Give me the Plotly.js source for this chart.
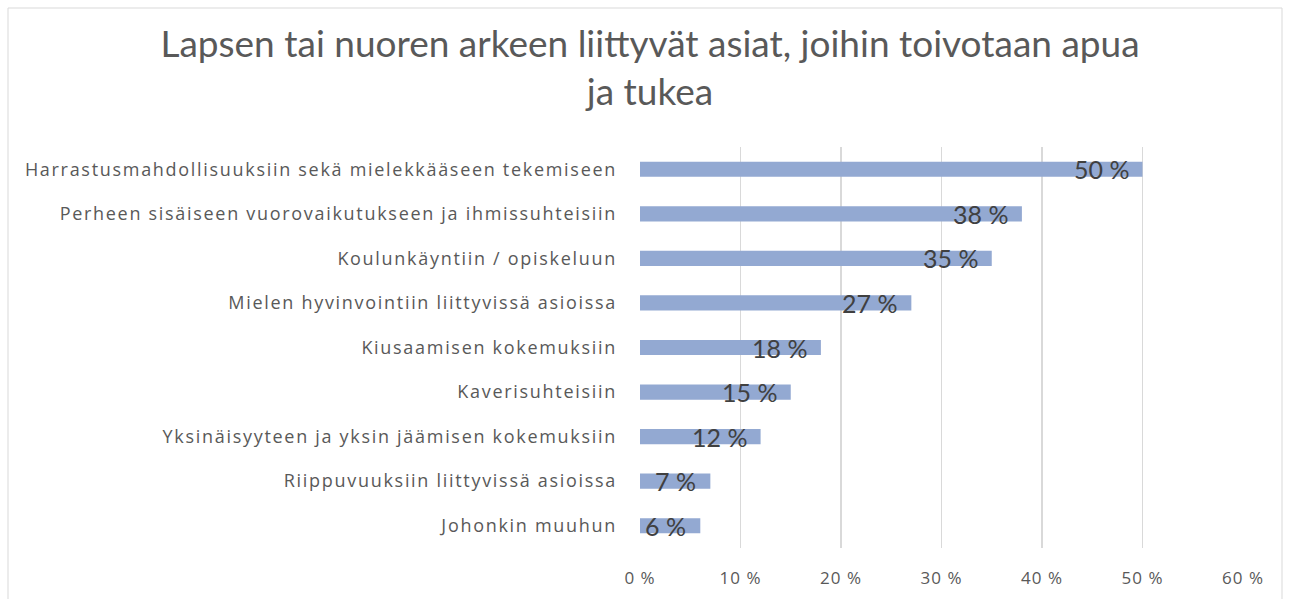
<!DOCTYPE html>
<html>
<head>
<meta charset="utf-8">
<script src="https://cdn.plot.ly/plotly-3.0.1.min.js"></script>
<style>
html,body{margin:0;padding:0;background:#fff;}
#chart{width:1290px;height:599px;}
#chart .ytick text{letter-spacing:1.7px;}
#chart .xtick text{letter-spacing:1px;}
</style>
</head>
<body>
<div id="chart"></div>
<script>
const categories = [
  "Harrastusmahdollisuuksiin sekä mielekkääseen tekemiseen",
  "Perheen sisäiseen vuorovaikutukseen ja ihmissuhteisiin",
  "Koulunkäyntiin / opiskeluun",
  "Mielen hyvinvointiin liittyvissä asioissa",
  "Kiusaamisen kokemuksiin",
  "Kaverisuhteisiin",
  "Yksinäisyyteen ja yksin jäämisen kokemuksiin",
  "Riippuvuuksiin liittyvissä asioissa",
  "Johonkin muuhun"
];
const values = [50, 38, 35, 27, 18, 15, 12, 7, 6];
const valueLabels = ["50 %", "38 %", "35 %", "27 %", "18 %", "15 %", "12 %", "7 %", "6 %"];
const tickValues = [0, 10, 20, 30, 40, 50, 60];
const tickLabels = ["0 %", "10 %", "20 %", "30 %", "40 %", "50 %", "60 %"];
const titleText = "Lapsen tai nuoren arkeen liittyvät asiat, joihin toivotaan apua<br>ja tukea";

const FONT = "Lato, 'Open Sans', sans-serif";
const TICKFONT = "'Open Sans', Lato, sans-serif";

const trace = {
  type: "bar",
  orientation: "h",
  x: values,
  y: categories,
  marker: {color: "#93a9d2"},
  width: 0.34,
  hoverinfo: "skip"
};

const annotations = values.map((v, i) => ({
  x: v, y: categories[i], xref: "x", yref: "y",
  text: valueLabels[i], showarrow: false,
  xanchor: "right", yanchor: "middle", xshift: -12,
  font: {family: FONT, size: 25, color: "#404040"}
}));

const layout = {
  width: 1290, height: 599,
  margin: {l: 640, r: 47, t: 147, b: 51},
  paper_bgcolor: "#ffffff", plot_bgcolor: "#ffffff",
  showlegend: false,
  title: {
    text: titleText,
    font: {family: FONT, size: 37, color: "#595959"},
    x: 650 / 1290, xref: "container", xanchor: "center",
    y: 0.905, yref: "container", yanchor: "top"
  },
  xaxis: {
    range: [0, 60],
    tickvals: tickValues,
    ticktext: tickLabels,
    showgrid: true, gridcolor: "#d9d9d9", gridwidth: 1.3,
    zeroline: false, showline: false,
    ticks: "", ticklabelstandoff: 18,
    tickfont: {family: TICKFONT, size: 17, color: "#595959"},
    fixedrange: true
  },
  yaxis: {
    type: "category",
    autorange: "reversed",
    showgrid: false, zeroline: false, showline: false,
    ticks: "", ticklabelstandoff: 22,
    tickfont: {family: TICKFONT, size: 18, color: "#595959"},
    fixedrange: true
  },
  shapes: [{
    type: "rect", xref: "paper", yref: "paper",
    x0: (8 - 640) / 603, x1: (1282 - 640) / 603,
    y0: (548 - 610) / 401, y1: (548 - 8) / 401,
    line: {color: "#d9d9d9", width: 1}, fillcolor: "rgba(0,0,0,0)", layer: "below"
  }],
  annotations: annotations
};

Plotly.newPlot("chart", [trace], layout, {displayModeBar: false, staticPlot: true});
</script>
</body>
</html>
